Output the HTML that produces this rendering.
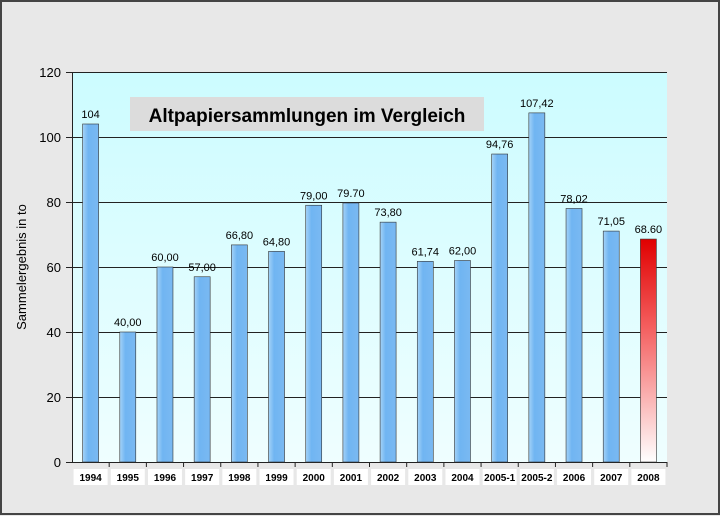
<!DOCTYPE html><html><head><style>body{margin:0;background:#fff}</style></head><body>
<svg width="720" height="516" xmlns="http://www.w3.org/2000/svg" font-family="Liberation Sans, sans-serif">
<defs>
<linearGradient id="bg" x1="0" y1="0" x2="0" y2="1"><stop offset="0" stop-color="#ccfcff"/><stop offset="1" stop-color="#effeff"/></linearGradient>
<linearGradient id="bl" x1="0" y1="0" x2="1" y2="0"><stop offset="0" stop-color="#a5d3f7"/><stop offset="0.35" stop-color="#70b5f2"/><stop offset="1" stop-color="#7ab9f2"/></linearGradient>
<linearGradient id="rd" x1="0" y1="0" x2="0" y2="1"><stop offset="0" stop-color="#e00000"/><stop offset="0.4" stop-color="#f46060"/><stop offset="1" stop-color="#ffffff"/></linearGradient>
</defs>
<rect width="720" height="516" fill="#e8e8e8"/>
<rect x="1" y="1" width="718" height="513" fill="none" stroke="#444" stroke-width="2"/>
<rect x="72" y="72" width="595" height="390" fill="url(#bg)"/>
<g stroke="#222" stroke-width="1">
<line x1="66" y1="72.5" x2="667" y2="72.5"/><line x1="66" y1="137.5" x2="667" y2="137.5"/><line x1="66" y1="202.5" x2="667" y2="202.5"/><line x1="66" y1="267.5" x2="667" y2="267.5"/><line x1="66" y1="332.5" x2="667" y2="332.5"/><line x1="66" y1="397.5" x2="667" y2="397.5"/><line x1="66" y1="462.5" x2="667" y2="462.5"/>
<line x1="72.5" y1="72" x2="72.5" y2="462"/>
</g>
<g font-size="13" text-anchor="end" fill="#000">
<text x="61" y="77">120</text><text x="61" y="142">100</text><text x="61" y="207">80</text><text x="61" y="272">60</text><text x="61" y="337">40</text><text x="61" y="402">20</text><text x="61" y="467">0</text>
</g>
<text transform="translate(26,267) rotate(-90)" text-anchor="middle" font-size="13">Sammelergebnis in to</text>
<rect x="130" y="97" width="354" height="34" fill="#dcdcdc"/>
<text x="307" y="122" text-anchor="middle" font-size="19" font-weight="bold">Altpapiersammlungen im Vergleich</text>
<g id="bars" font-size="11" text-anchor="middle"></g>
</svg>
<script>
var d=[["1994",104,"104"],["1995",40,"40,00"],["1996",60,"60,00"],["1997",57,"57,00"],["1998",66.8,"66,80"],["1999",64.8,"64,80"],["2000",79,"79,00"],["2001",79.7,"79.70"],["2002",73.8,"73,80"],["2003",61.74,"61,74"],["2004",62,"62,00"],["2005-1",94.76,"94,76"],["2005-2",107.42,"107,42"],["2006",78.02,"78,02"],["2007",71.05,"71,05"],["2008",68.6,"68.60"]];
var g=document.getElementById('bars'),s='';var w=595/16;
d.forEach(function(e,i){var c=72+w*(i+0.5),y=462-e[1]*3.25;
s+='<rect x="'+(c-8)+'" y="'+y+'" width="16" height="'+(462-y)+'" fill="'+(i==15?'url(#rd)':'url(#bl)')+'" stroke="#333" stroke-width="0.6"/>';
s+='<text x="'+c+'" y="'+(y-6)+'">'+e[2]+'</text>';
s+='<line x1="'+(72+w*(i+1))+'" y1="462" x2="'+(72+w*(i+1))+'" y2="467" stroke="#222"/>';
s+='<rect x="'+(c-17)+'" y="469" width="34" height="16" fill="#fff"/><text x="'+c+'" y="481" font-size="10" font-weight="bold">'+e[0]+'</text>';});
g.innerHTML=s;
</script>
</body></html>
